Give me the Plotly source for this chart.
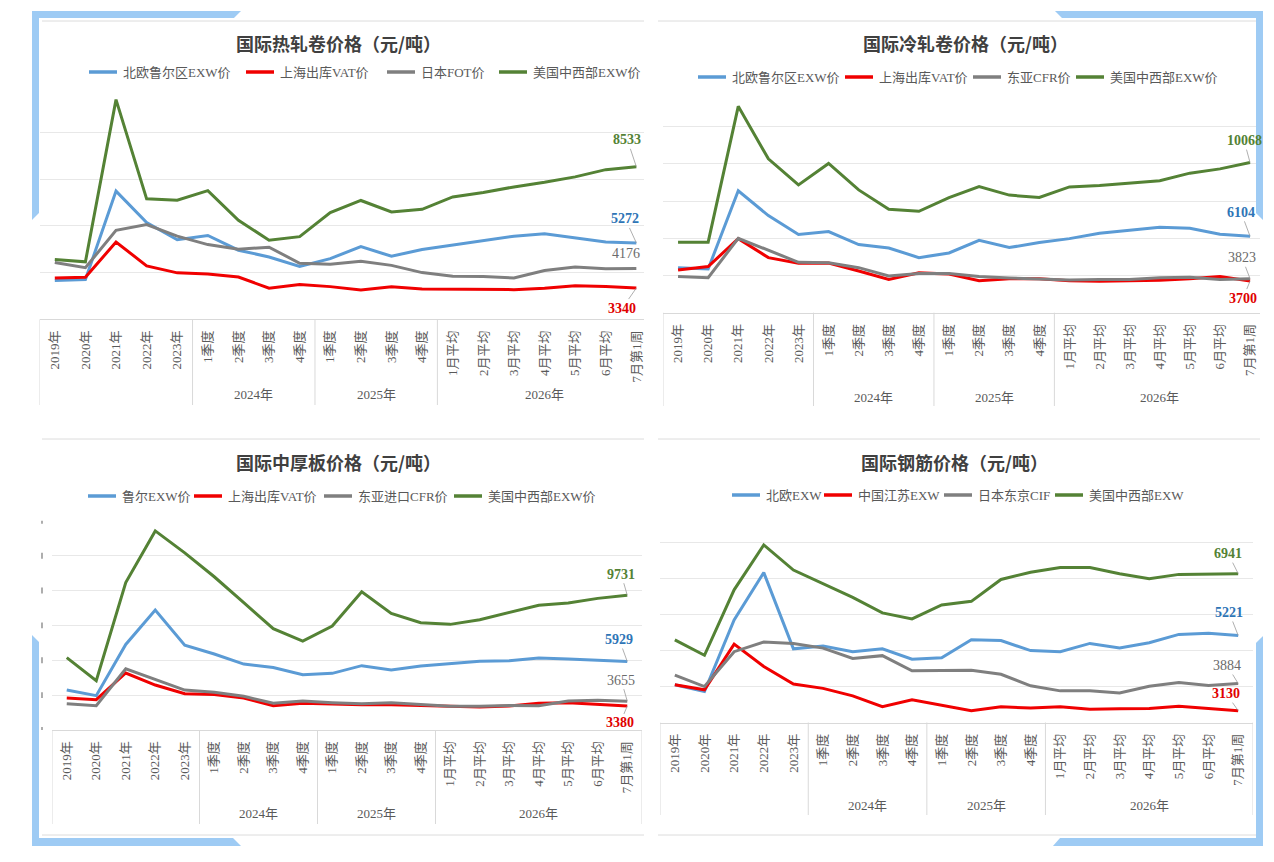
import plotly.graph_objects as go

W, H = 1274, 862

# ---------------- data ----------------
cat_labels = ["2019年", "2020年", "2021年", "2022年", "2023年",
              "1季度", "2季度", "3季度", "4季度",
              "1季度", "2季度", "3季度", "4季度",
              "1月平均", "2月平均", "3月平均", "4月平均", "5月平均", "6月平均", "7月第1周"]
group_labels = ["", "2024年", "2025年", "2026年"]
group_sizes = [5, 4, 4, 7]

# 国际热轧卷
hrc_title = "国际热轧卷价格（元/吨）"
hrc_names = ["北欧鲁尔区EXW价", "上海出库VAT价", "日本FOT价", "美国中西部EXW价"]
hrc_ruhr = [3660, 3700, 7490, 6140, 5410, 5590, 4960, 4670, 4260, 4600, 5110, 4700, 4990, 5170, 5360, 5560, 5660, 5470, 5310, 5272]
hrc_shanghai = [3770, 3800, 5310, 4290, 3990, 3940, 3810, 3330, 3490, 3400, 3260, 3390, 3300, 3290, 3260, 3270, 3330, 3440, 3400, 3340]
hrc_japan = [4430, 4210, 5810, 6060, 5560, 5200, 5000, 5090, 4400, 4360, 4490, 4310, 4000, 3840, 3830, 3770, 4090, 4240, 4170, 4176]
hrc_us = [4560, 4460, 11410, 7160, 7100, 7510, 6240, 5390, 5540, 6570, 7090, 6600, 6710, 7240, 7430, 7670, 7870, 8100, 8410, 8533]

# 国际冷轧卷
crc_title = "国际冷轧卷价格（元/吨）"
crc_names = ["北欧鲁尔区EXW价", "上海出库VAT价", "东亚CFR价", "美国中西部EXW价"]
crc_ruhr = [4420, 4350, 8550, 7220, 6200, 6360, 5660, 5480, 4960, 5210, 5890, 5500, 5770, 5980, 6270, 6430, 6590, 6540, 6220, 6104]
crc_shanghai = [4300, 4480, 5980, 4960, 4660, 4670, 4240, 3790, 4140, 4080, 3720, 3830, 3830, 3720, 3690, 3700, 3740, 3830, 3940, 3700]
crc_eastasia = [3940, 3880, 6000, 5340, 4710, 4690, 4420, 3970, 4100, 4100, 3940, 3870, 3830, 3760, 3790, 3790, 3880, 3900, 3790, 3823]
crc_us = [5790, 5790, 13090, 10270, 8870, 10020, 8600, 7560, 7450, 8190, 8780, 8320, 8190, 8760, 8840, 8960, 9090, 9500, 9730, 10068]

# 国际中厚板
plate_title = "国际中厚板价格（元/吨）"
plate_names = ["鲁尔EXW价", "上海出库VAT价", "东亚进口CFR价", "美国中西部EXW价"]
plate_ruhr = [4290, 3970, 6910, 8880, 6870, 6360, 5780, 5590, 5170, 5250, 5690, 5440, 5670, 5800, 5950, 5970, 6130, 6070, 5990, 5929]
plate_shanghai = [3830, 3740, 5270, 4580, 4080, 4040, 3830, 3390, 3530, 3470, 3450, 3450, 3410, 3340, 3320, 3380, 3530, 3570, 3490, 3380]
plate_eastasia = [3510, 3390, 5510, 4900, 4290, 4160, 3930, 3530, 3660, 3570, 3510, 3570, 3450, 3360, 3360, 3410, 3390, 3660, 3700, 3655]
plate_us = [6150, 4830, 10460, 13420, 12160, 10790, 9300, 7810, 7100, 7960, 9930, 8690, 8150, 8060, 8320, 8720, 9160, 9280, 9550, 9731]

# 国际钢筋
rebar_title = "国际钢筋价格（元/吨）"
rebar_names = ["北欧EXW", "中国江苏EXW", "日本东京CIF", "美国中西部EXW"]
rebar_nordic = [3850, 3660, 5650, 6970, 4850, 4930, 4770, 4850, 4560, 4600, 5100, 5080, 4800, 4770, 5000, 4870, 5020, 5250, 5280, 5221]
rebar_jiangsu = [3850, 3710, 4980, 4360, 3870, 3750, 3540, 3240, 3430, 3280, 3130, 3240, 3200, 3240, 3170, 3180, 3190, 3250, 3180, 3130]
rebar_tokyo = [4120, 3800, 4770, 5040, 5000, 4870, 4580, 4660, 4240, 4240, 4250, 4140, 3820, 3680, 3680, 3620, 3810, 3910, 3830, 3884]
rebar_us = [5100, 4670, 6490, 7740, 7040, 6670, 6280, 5850, 5680, 6070, 6170, 6780, 6980, 7110, 7110, 6940, 6800, 6920, 6930, 6941]

# ---------------- style ----------------
line_colors = ["#5b9bd5", "#f00000", "#7f7f7f", "#548235"]
label_colors = ["#2e75b6", "#e00000", "#6b6b6b", "#548235"]
label_bold = [True, True, False, True]
SERIF = "Liberation Serif, Noto Sans CJK SC"
TXT = "#595959"


def px(x):
    return x / W


def py(y):
    return 1 - y / H


panels = [
    dict(title=hrc_title, names=hrc_names, series=[hrc_ruhr, hrc_shanghai, hrc_japan, hrc_us],
         xd=(39.5, 644), yd=(85.7, 319.3), xr=(-0.5, 19.25), yr=(2000, 12000), dtick=2000, tick0=0,
         title_xy=(338, 43), legend_y=72, legend_x=[89, 246, 387, 499],
         group_y=394, box_bottom=405, frame=(42, 644, 21, None),
         label_off=[(-11, -24, True), (-14, 20, True), (-10, -15, False), (-9, -27, True)]),
    dict(title=crc_title, names=crc_names, series=[crc_ruhr, crc_shanghai, crc_eastasia, crc_us],
         xd=(663, 1260), yd=(89.3, 312.7), xr=(-0.5, 19.33), yr=(2000, 14000), dtick=2000, tick0=0,
         title_xy=(965, 43), legend_y=77, legend_x=[698, 845, 973, 1076],
         group_y=397, box_bottom=406, frame=(658, 1260, 21, None),
         label_off=[(-9, -24, True), (-7, 17, True), (-8, -21, True), (-6, -22, True)]),
    dict(title=plate_title, names=plate_names, series=[plate_ruhr, plate_shanghai, plate_eastasia, plate_us],
         xd=(52, 642), yd=(520.7, 730), xr=(-0.5, 19.5), yr=(2000, 14000), dtick=2000, tick0=0,
         title_xy=(338, 462), legend_y=496, legend_x=[88, 194, 324, 454],
         group_y=813, box_bottom=824, frame=(42, 644, 439, 835),
         label_off=[(-8, -22, True), (-7, 17, True), (-6, -21, True), (-6, -21, True)]),
    dict(title=rebar_title, names=rebar_names, series=[rebar_nordic, rebar_jiangsu, rebar_tokyo, rebar_us],
         xd=(660, 1253), yd=(506.7, 722.5), xr=(-0.5, 19.5), yr=(2800, 8800), dtick=1000, tick0=2800,
         title_xy=(954, 462), legend_y=495, legend_x=[732, 824, 944, 1055],
         group_y=805, box_bottom=815, frame=(658, 1260, 439, 835),
         label_off=[(-9, -23, True), (-12, -17, True), (-11, -18, True), (-10, -20, True)]),
]

fig = go.Figure()
annotations = []
shapes = []
xidx = list(range(len(cat_labels)))

for i, p in enumerate(panels):
    n = i + 1
    xa = "x" if n == 1 else f"x{n}"
    ya = "y" if n == 1 else f"y{n}"
    for s, (name, vals) in enumerate(zip(p["names"], p["series"])):
        fig.add_trace(go.Scatter(x=xidx, y=vals, name=name, mode="lines",
                                 line=dict(color=line_colors[s], width=3),
                                 xaxis=xa, yaxis=ya, showlegend=False, hoverinfo="skip"))
        # legend entry (line sample + text)
        lx = p["legend_x"][s]
        ly = py(p["legend_y"])
        shapes.append(dict(type="line", xref="paper", yref="paper", x0=px(lx), x1=px(lx + 28),
                           y0=ly, y1=ly, line=dict(color=line_colors[s], width=3.5)))
        annotations.append(dict(x=px(lx + 32), y=ly, xref="paper", yref="paper", text=name,
                                showarrow=False, xanchor="left", yanchor="middle",
                                font=dict(family=SERIF, size=13, color=TXT)))
    # axes
    y0, y1 = p["yr"]
    fig.update_layout(**{
        ("xaxis" if n == 1 else f"xaxis{n}"): dict(
            domain=[px(p["xd"][0]), px(p["xd"][1])], range=list(p["xr"]), anchor=ya,
            tickmode="array", tickvals=xidx, ticktext=cat_labels, tickangle=-90,
            tickfont=dict(family=SERIF, size=13, color=TXT), ticks="", ticklabelstandoff=5,
            showline=True, linecolor="#d9d9d9", linewidth=1, showgrid=False, zeroline=False,
            fixedrange=True),
        ("yaxis" if n == 1 else f"yaxis{n}"): dict(
            domain=[py(p["yd"][1]), py(p["yd"][0])], range=[y0, y1 + p["dtick"] * 0.003], anchor=xa,
            tick0=p["tick0"], dtick=p["dtick"], showticklabels=False, ticks="",
            showgrid=True, gridcolor="#e8e8e8", gridwidth=1, zeroline=False, showline=False,
            fixedrange=True),
    })
    # title
    annotations.append(dict(x=px(p["title_xy"][0]), y=py(p["title_xy"][1]), xref="paper", yref="paper",
                            text=p["title"], showarrow=False, xanchor="center", yanchor="middle",
                            font=dict(family="Noto Sans CJK SC", size=18, color="#404040", weight="bold")))
    # end labels
    for s, vals in enumerate(p["series"]):
        dx, dy, leader = p["label_off"][s]
        f = dict(family="Liberation Serif", size=14, color=label_colors[s],
                 weight="bold" if label_bold[s] else "normal")
        if leader:
            annotations.append(dict(x=xidx[-1], y=vals[-1], xref=xa, yref=ya, text=str(vals[-1]),
                                    showarrow=True, ax=dx, ay=dy, arrowhead=0, arrowwidth=0.8,
                                    arrowcolor="#9a9a9a", standoff=0, startstandoff=0, font=f))
        else:
            annotations.append(dict(x=xidx[-1], y=vals[-1], xref=xa, yref=ya, text=str(vals[-1]),
                                    showarrow=False, xshift=dx, yshift=-dy, font=f))
    # group labels and separators
    start = 0
    axis_y = py(p["yd"][1])
    bottom = py(p["box_bottom"])
    shapes.append(dict(type="line", xref=xa, yref="paper", x0=-0.5, x1=-0.5, y0=axis_y, y1=bottom,
                       line=dict(color="#d9d9d9", width=1)))
    for g, size in zip(group_labels, group_sizes):
        end = start + size - 1
        if g:
            annotations.append(dict(x=(start + end) / 2, y=py(p["group_y"]), xref=xa, yref="paper",
                                    text=g, showarrow=False, xanchor="center", yanchor="middle",
                                    font=dict(family=SERIF, size=13, color=TXT)))
        shapes.append(dict(type="line", xref=xa, yref="paper", x0=end + 0.5, x1=end + 0.5,
                           y0=axis_y, y1=bottom, line=dict(color="#d9d9d9", width=1)))
        start = end + 1
    # frame lines
    fx0, fx1, ftop, fbot = p["frame"]
    shapes.append(dict(type="line", xref="paper", yref="paper", x0=px(fx0), x1=px(fx1),
                       y0=py(ftop), y1=py(ftop), line=dict(color="#dcdcdc", width=1)))
    if fbot:
        shapes.append(dict(type="line", xref="paper", yref="paper", x0=px(fx0), x1=px(fx1),
                           y0=py(fbot), y1=py(fbot), line=dict(color="#dcdcdc", width=1)))

# clipped y tick remnants on the plate chart
for v in range(2000, 14001, 2000):
    shapes.append(dict(type="line", xref="paper", yref="y3", x0=px(42), x1=px(42),
                       y0=v - 170, y1=v + 170, line=dict(color="#777777", width=1.2)))


# decorative corner bands
def poly(pts):
    d = "M " + " L ".join(f"{px(x):.5f},{py(y):.5f}" for x, y in pts) + " Z"
    return dict(type="path", xref="paper", yref="paper", path=d, fillcolor="#9ecbf4",
                line=dict(width=0), layer="above")


shapes += [
    poly([(32, 11), (241, 11), (234, 18), (39, 18), (39, 213), (32, 220)]),
    poly([(1055, 11), (1263, 11), (1263, 220), (1256, 213), (1256, 18), (1062, 18)]),
    poly([(32, 635), (39, 642), (39, 838), (233, 838), (241, 846), (32, 846)]),
    poly([(1263, 636), (1263, 846), (1053, 846), (1060, 838), (1256, 838), (1256, 643)]),
]

fig.update_layout(width=W, height=H, autosize=False, margin=dict(l=0, r=0, t=0, b=0),
                  paper_bgcolor="white", plot_bgcolor="white", hovermode=False,
                  annotations=annotations, shapes=shapes, showlegend=False)

fig.write_html("out.html", config={"displayModeBar": False})
